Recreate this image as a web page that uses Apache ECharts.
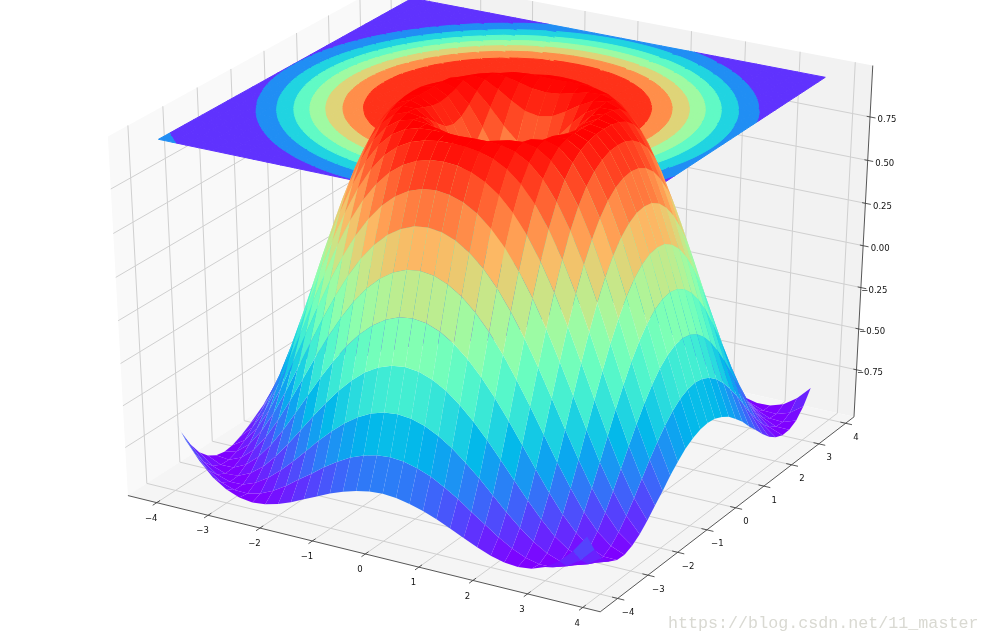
<!DOCTYPE html>
<html><head><meta charset="utf-8">
<style>html,body{margin:0;padding:0;background:#fff}#c{width:989px;height:643px}</style>
<script src="https://cdn.jsdelivr.net/npm/echarts@6/dist/echarts.min.js"></script>
</head><body><div id="c"></div>
<script>
// grid positions shared by x and y
const gridValues = [-4,-3.75,-3.5,-3.25,-3,-2.75,-2.5,-2.25,-2,-1.75,-1.5,-1.25,-1,-0.75,-0.5,-0.25,0,0.25,0.5,0.75,1,1.25,1.5,1.75,2,2.25,2.5,2.75,3,3.25,3.5,3.75];
// surface heights, one quadrant (distance from centre in grid steps along each axis)
const heightQuadrant = [
[0,.247,.479,.682,.841,.949,.997,.984,.909,.778,.598,.382,.141,-.108,-.351,-.572,-.757],
[.247,.346,.530,.711,.857,.957,.999,.981,.903,.769,.589,.372,.131,-.118,-.360,-.579,-.763],
[.479,.530,.650,.784,.899,.975,1.0,.969,.882,.742,.558,.340,.100,-.146,-.384,-.600,-.779],
[.682,.711,.784,.873,.949,.994,.994,.945,.844,.696,.507,.288,.049,-.192,-.424,-.630,-.802],
[.841,.857,.899,.949,.988,1.0,.973,.903,.787,.628,.434,.215,-.021,-.256,-.478,-.675,-.832],
[.949,.957,.975,.994,1.0,.981,.928,.837,.705,.537,.340,.121,-.108,-.334,-.544,-.724,-.868],
[.997,.999,1.0,.994,.973,.928,.853,.742,.598,.424,.224,.009,-.211,-.424,-.617,-.784,-.905],
[.984,.981,.969,.945,.903,.837,.742,.618,.465,.288,.089,-.118,-.325,-.522,-.698,-.838,-.941],
[.909,.903,.882,.844,.787,.705,.598,.465,.308,.131,-.060,-.256,-.448,-.624,-.779,-.895,-.971],
[.778,.769,.742,.696,.628,.537,.424,.288,.131,-.040,-.220,-.400,-.572,-.724,-.852,-.943,-.992],
[.598,.589,.558,.507,.434,.340,.224,.089,-.060,-.220,-.384,-.544,-.692,-.818,-.917,-.979,-1.0],
[.382,.372,.340,.288,.215,.121,.009,-.118,-.256,-.400,-.544,-.680,-.802,-.899,-.966,-.998,-.990],
[.141,.131,.100,.049,-.021,-.108,-.211,-.325,-.448,-.572,-.692,-.802,-.892,-.958,-.995,-.996,-.959],
[-.108,-.118,-.146,-.192,-.256,-.334,-.424,-.522,-.624,-.724,-.818,-.899,-.958,-.993,-.998,-.970,-.906],
[-.351,-.360,-.384,-.424,-.478,-.544,-.617,-.698,-.779,-.852,-.917,-.966,-.995,-.998,-.972,-.914,-.825],
[-.572,-.579,-.600,-.630,-.675,-.724,-.784,-.838,-.895,-.943,-.979,-.998,-.996,-.970,-.914,-.832,-.720],
[-.757,-.763,-.779,-.802,-.832,-.868,-.905,-.941,-.971,-.992,-1.0,-.990,-.959,-.906,-.825,-.720,-.586]
];
const xTicks = [-4,-3,-2,-1,0,1,2,3,4];
const yTicks = [-4,-3,-2,-1,0,1,2,3,4];
const zTicks = [-0.75,-0.5,-0.25,0,0.25,0.5,0.75];
const contourLevels = [-1,-0.75,-0.5,-0.25,0,0.25,0.5,0.75,1];
const contourOffset = 1;
const watermark = 'https://blog.csdn.net/11_master';

// view
const W=989,H=643,X0=496.8,Y0=282.6,SX=523.4,SY=393.5;
const XLO=-4.3875,XHI=4.1375,ZLO=-1,ZHI=1,DIST=10;
const XB=[XLO-(XHI-XLO)/48,XHI+(XHI-XLO)/48], ZB=[ZLO-(ZHI-ZLO)/48,ZHI+(ZHI-ZLO)/48];
const az=-60*Math.PI/180, el=30*Math.PI/180;
const n=[Math.cos(az)*Math.cos(el),Math.sin(az)*Math.cos(el),Math.sin(el)];
const ul=Math.hypot(n[0],n[1]);
const u=[-n[1]/ul,n[0]/ul,0];
const v=[n[1]*u[2]-n[2]*u[1],n[2]*u[0]-n[0]*u[2],n[0]*u[1]-n[1]*u[0]];
function view(p){
  const a=[(p[0]-XLO)/(XHI-XLO)-.5,(p[1]-XLO)/(XHI-XLO)-.5,(p[2]-ZLO)/(ZHI-ZLO)-.5];
  const dot=(q)=>q[0]*a[0]+q[1]*a[1]+q[2]*a[2];
  const d=dot(n),f=DIST/(DIST-d);
  return {x:dot(u)*f,y:dot(v)*f,d:d};
}
const proj=p=>{const t=view(p);return [t.x,t.y];};

function rainbow(t){
  t=Math.max(0,Math.min(1,t));
  const r=Math.min(1,Math.abs(2*t-.5)),g=Math.sin(Math.PI*t),b=Math.cos(Math.PI*t/2);
  return 'rgb('+Math.round(r*255)+','+Math.round(g*255)+','+Math.round(b*255)+')';
}
const heightAt=(i,j)=>heightQuadrant[Math.abs(i-16)][Math.abs(j-16)];

// back panes
const [a0,a1]=XB,[b0,b1]=ZB;
const panes=[
 {pts:[[a0,a0,b0],[a0,a1,b0],[a0,a1,b1],[a0,a0,b1]],fill:'#f9f9f9'},
 {pts:[[a0,a1,b0],[a1,a1,b0],[a1,a1,b1],[a0,a1,b1]],fill:'#f2f2f2'},
 {pts:[[a0,a0,b0],[a1,a0,b0],[a1,a1,b0],[a0,a1,b0]],fill:'#f5f5f5'}
];
// grid lines
const gridLines=[];
xTicks.forEach(t=>gridLines.push([[t,a0,b0],[t,a1,b0],[t,a1,b1]]));
yTicks.forEach(t=>gridLines.push([[a1,t,b0],[a0,t,b0],[a0,t,b1]]));
zTicks.forEach(t=>gridLines.push([[a0,a0,t],[a0,a1,t],[a1,a1,t]]));
// axis lines and ticks
const axisLines=[[[a0,a0,b0],[a1,a0,b0]],[[a1,a0,b0],[a1,a1,b0]],[[a1,a1,b0],[a1,a1,b1]]];
xTicks.forEach(t=>axisLines.push([[t,a0-.12,b0],[t,a0+.1,b0]]));
yTicks.forEach(t=>axisLines.push([[a1-.1,t,b0],[a1+.12,t,b0]]));
zTicks.forEach(t=>axisLines.push([[a1-.06,a1,t],[a1+.1,a1,t]]));
// tick labels
const minusText=s=>String(s).replace('-','\u2212');
const labels=[];
xTicks.forEach(t=>labels.push({p:[t,a0,b0],dx:-5.5,dy:16,text:minusText(t),align:'center'}));
yTicks.forEach(t=>labels.push({p:[a1,t,b0],dx:10.4,dy:14.2,text:minusText(t),align:'center'}));
zTicks.forEach(t=>labels.push({p:[a1,a1,t],dx:26.5,dy:3.2,text:minusText(t.toFixed(2)),align:'right'}));

// filled contours on the top plane
function clip(poly,lv,keepAbove){
  const out=[];
  for(let k=0;k<poly.length;k++){
    const A=poly[k],B=poly[(k+1)%poly.length];
    const ia=keepAbove?A[2]>=lv:A[2]<=lv, ib=keepAbove?B[2]>=lv:B[2]<=lv;
    if(ia)out.push(A);
    if(ia!==ib){const s=(lv-A[2])/(B[2]-A[2]);out.push([A[0]+s*(B[0]-A[0]),A[1]+s*(B[1]-A[1]),lv]);}
  }
  return out;
}
const contourPolys=[];
for(let i=0;i<31;i++)for(let j=0;j<31;j++){
  const q=[[gridValues[i],gridValues[j],heightAt(i,j)],[gridValues[i+1],gridValues[j],heightAt(i+1,j)],[gridValues[i+1],gridValues[j+1],heightAt(i+1,j+1)],[gridValues[i],gridValues[j+1],heightAt(i,j+1)]];
  for(let l=0;l<contourLevels.length-1;l++){
    let c=clip(q,contourLevels[l],true);
    if(c.length>2)c=clip(c,contourLevels[l+1],false);
    if(c.length>2){
      const mid=(contourLevels[l]+contourLevels[l+1])/2;
      const col=rainbow((mid-contourLevels[0])/(contourLevels[contourLevels.length-1]-contourLevels[0]));
      contourPolys.push({pts:c.map(p=>[p[0],p[1],contourOffset]),fill:col,stroke:col});
    }
  }
}
// surface facets, far to near
const facets=[];
for(let i=0;i<31;i++)for(let j=0;j<31;j++){
  const pts=[[gridValues[i],gridValues[j],heightAt(i,j)],[gridValues[i+1],gridValues[j],heightAt(i+1,j)],[gridValues[i+1],gridValues[j+1],heightAt(i+1,j+1)],[gridValues[i],gridValues[j+1],heightAt(i,j+1)]];
  const avg=pts.reduce((s,p)=>s+p[2],0)/4;
  const depth=pts.reduce((s,p)=>s+view(p).d,0)/4;
  facets.push({pts,avg,depth});
}
const zMin=Math.min(...facets.map(f=>f.avg)),zMax=Math.max(...facets.map(f=>f.avg));
facets.forEach(f=>{f.fill=rainbow((f.avg-zMin)/(zMax-zMin));});
facets.sort((p,q)=>p.depth-q.depth);

const idx=a=>a.map((_,i)=>[i]);
function polySeries(items,z){
  return {type:'custom',coordinateSystem:'cartesian2d',silent:true,animation:false,progressive:0,z,clip:false,
    encode:{x:0,y:0},data:idx(items),
    renderItem(params,api){
      const it=items[api.value(0)];
      return {type:'polygon',shape:{points:it.pts.map(p=>api.coord(proj(p)))},
        style:{fill:it.fill,stroke:it.stroke||null,lineWidth:it.stroke?1:0}};
    }};
}
function lineSeries(items,color,width,z){
  return {type:'custom',coordinateSystem:'cartesian2d',silent:true,animation:false,progressive:0,z,clip:false,
    encode:{x:0,y:0},data:idx(items),
    renderItem(params,api){
      return {type:'polyline',shape:{points:items[api.value(0)].map(p=>api.coord(proj(p)))},
        style:{stroke:color,lineWidth:width,fill:null}};
    }};
}
const option={
  backgroundColor:'#fff',animation:false,
  grid:{left:0,right:0,top:0,bottom:0,containLabel:false},
  xAxis:{type:'value',show:false,min:-X0/SX,max:(W-X0)/SX},
  yAxis:{type:'value',show:false,min:(Y0-H)/SY,max:Y0/SY},
  series:[
    polySeries(panes,1),
    lineSeries(gridLines,'#d0d0d0',1,2),
    lineSeries(axisLines,'#444',0.9,3),
    polySeries(contourPolys,4),
    polySeries(facets,5),
    {type:'custom',coordinateSystem:'cartesian2d',silent:true,animation:false,z:6,clip:false,
      encode:{x:0,y:0},data:idx(labels),
      renderItem(params,api){
        const l=labels[api.value(0)],c=api.coord(proj(l.p));
        return {type:'text',style:{x:c[0]+l.dx,y:c[1]+l.dy,text:l.text,fill:'#111',
          font:'8.5px "DejaVu Sans"',align:l.align,verticalAlign:'middle'}};
      }}
  ],
  graphic:[{type:'text',left:668,top:615,silent:true,z:10,
    style:{text:watermark,fill:'#d9d9d2',font:'16.7px "Liberation Mono"'}}]
};
echarts.init(document.getElementById('c'),null,{renderer:'canvas'}).setOption(option);
</script></body></html>
